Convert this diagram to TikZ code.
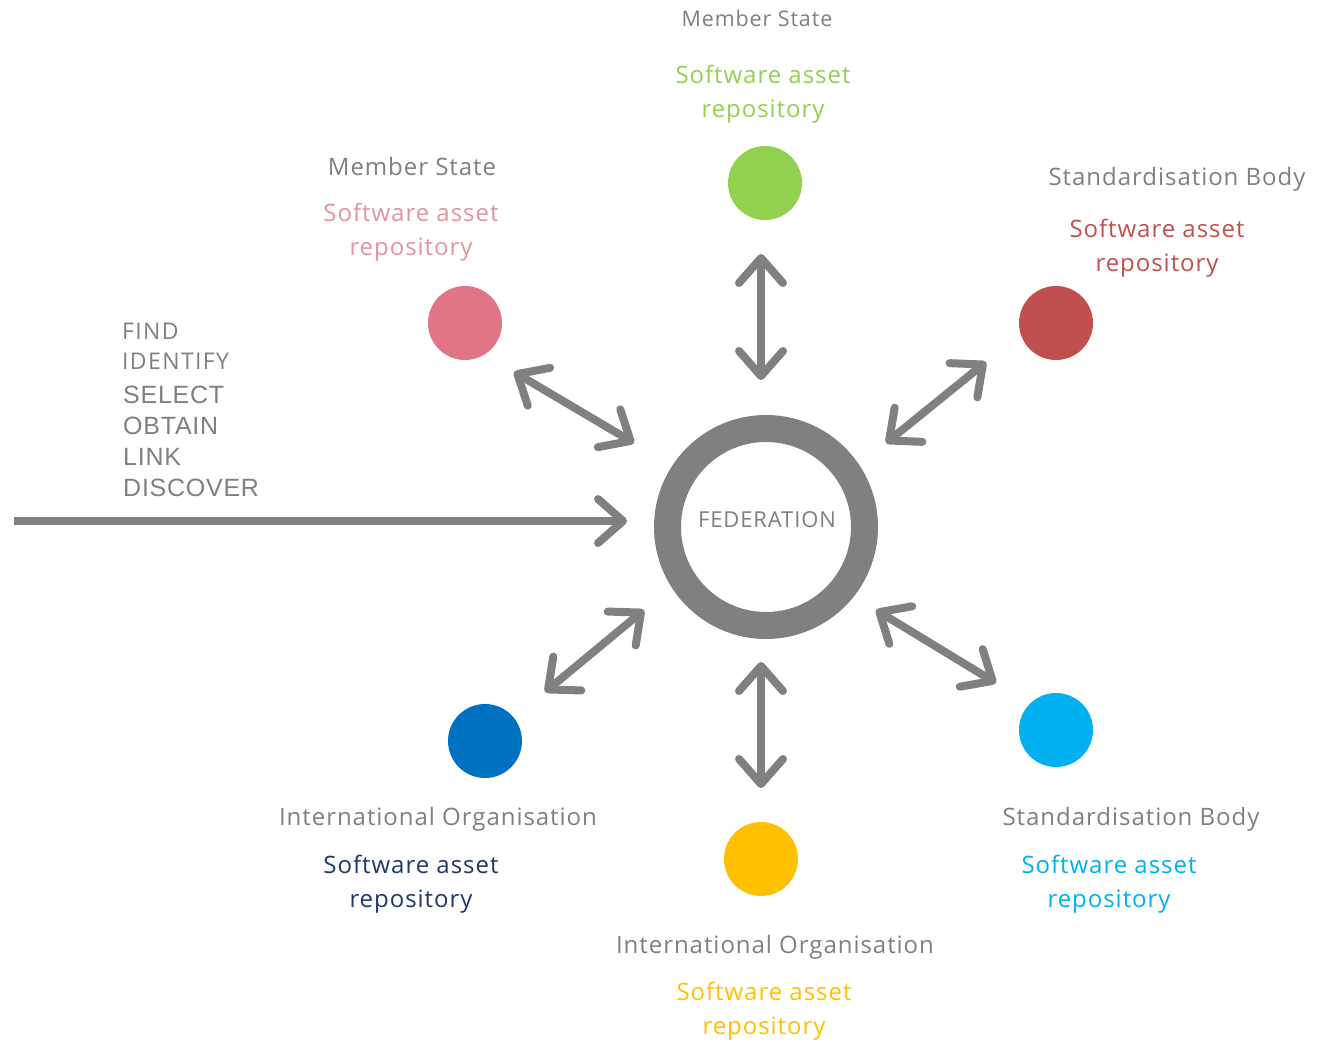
\documentclass[tikz,border=0pt]{standalone}
\usepackage{fontspec}
\setmainfont{Open Sans}[LetterSpace=4]
\newfontfamily\verbf{Open Sans}[LetterSpace=6]
\newfontfamily\arialf{Liberation Sans}[LetterSpace=3]
\newfontfamily\fedf{Open Sans}[LetterSpace=4]
\usetikzlibrary{arrows.meta}
\definecolor{txtgray}{HTML}{7F7F7F}
\definecolor{arrgray}{HTML}{808080}
\definecolor{cgreen}{HTML}{92D050}
\definecolor{cpink}{HTML}{E07586}
\definecolor{tpink}{HTML}{E3949A}
\definecolor{cred}{HTML}{C0504D}
\definecolor{cdblue}{HTML}{0070C0}
\definecolor{tnavy}{HTML}{1F3864}
\definecolor{cyellow}{HTML}{FFC000}
\definecolor{clblue}{HTML}{00B0F0}
\tikzset{
  repo/.style={circle, fill=#1, minimum size=74pt, inner sep=0pt},
  lbl/.style={font=\fontsize{24}{29}\selectfont, text=txtgray, inner sep=0pt, anchor=center},
  rtxt/.style={font=\fontsize{24}{34}\selectfont, text=#1, inner sep=0pt, align=center, anchor=center},
  barb/.tip={Straight Barb[length=25pt,width=44pt,line cap=round,line join=round]},
  dbl/.style={draw=arrgray, line width=8pt, barb-barb},
  sgl/.style={draw=arrgray, line width=8pt, -barb},
  verb/.style={inner sep=0pt, anchor=base west, text=txtgray}
}
\begin{document}
\begin{tikzpicture}[x=1pt,y=-1pt]
\useasboundingbox (0,0) rectangle (1328,1044);

% federation ring
\node[circle, draw=arrgray, line width=27pt, minimum size=197pt, inner sep=0pt] (fed) at (766,527) {};
\node[font=\fedf\fontsize{22}{26}\selectfont, text=txtgray, inner sep=0pt] (fedl) at (767,520) {FEDERATION};

% repositories
\node[repo=cgreen] (green) at (765,183) {};
\node[repo=cpink] (pink) at (465,323) {};
\node[repo=cred] (red) at (1056,323) {};
\node[repo=cdblue] (dblue) at (485,741) {};
\node[repo=cyellow] (yellow) at (761,859) {};
\node[repo=clblue] (lblue) at (1056,730) {};

% labels
\node[lbl, font=\fontsize{21.5}{26}\selectfont] (ms1) at (757,18) {Member State};
\node[rtxt=cgreen] (gt) at (763,94) {Software asset\\repository};
\node[lbl] (ms2) at (412,166) {Member State};
\node[rtxt=tpink] (pt) at (411,232) {Software asset\\repository};
\node[lbl] (sb1) at (1177,179) {Standardisation Body};
\node[rtxt=cred] (rt) at (1157,248) {Software asset\\repository};
\node[lbl] (io1) at (438,819) {International Organisation};
\node[rtxt=tnavy] (dt) at (411,884) {Software asset\\repository};
\node[lbl] (io2) at (775,947) {International Organisation};
\node[rtxt=cyellow] (yt) at (764,1011) {Software asset\\repository};
\node[lbl] (sb2) at (1131,819) {Standardisation Body};
\node[rtxt=clblue] (bt) at (1109,884) {Software asset\\repository};

% verbs
\node[verb, font=\verbf\fontsize{23}{27}\selectfont] (v1) at (122,339) {FIND};
\node[verb, font=\verbf\fontsize{23}{27}\selectfont] (v2) at (122,369) {IDENTIFY};
\node[verb, font=\arialf\fontsize{25}{29}\selectfont] (v3) at (123,403) {SELECT};
\node[verb, font=\arialf\fontsize{25}{29}\selectfont] (v4) at (123,434) {OBTAIN};
\node[verb, font=\arialf\fontsize{25}{29}\selectfont] (v5) at (123,465) {LINK};
\node[verb, font=\arialf\fontsize{25}{29}\selectfont] (v6) at (123,496) {DISCOVER};

% arrow end points
\coordinate (a1s) at (761,254); \coordinate (a1e) at (761,380);
\coordinate (a2s) at (514,372); \coordinate (a2e) at (634,443);
\coordinate (a3s) at (986,362); \coordinate (a3e) at (886,443);
\coordinate (a4s) at (644,610); \coordinate (a4e) at (545,692);
\coordinate (a5s) at (761,662); \coordinate (a5e) at (761,788);
\coordinate (a6s) at (876,610); \coordinate (a6e) at (996,683);
\coordinate (a7s) at (14,521);  \coordinate (a7e) at (627,521);

\draw[dbl] (a1s) -- (a1e);
\draw[dbl] (a2s) -- (a2e);
\draw[dbl] (a3s) -- (a3e);
\draw[dbl] (a4s) -- (a4e);
\draw[dbl] (a5s) -- (a5e);
\draw[dbl] (a6s) -- (a6e);
\draw[sgl] (a7s) -- (a7e);
\end{tikzpicture}
\end{document}
